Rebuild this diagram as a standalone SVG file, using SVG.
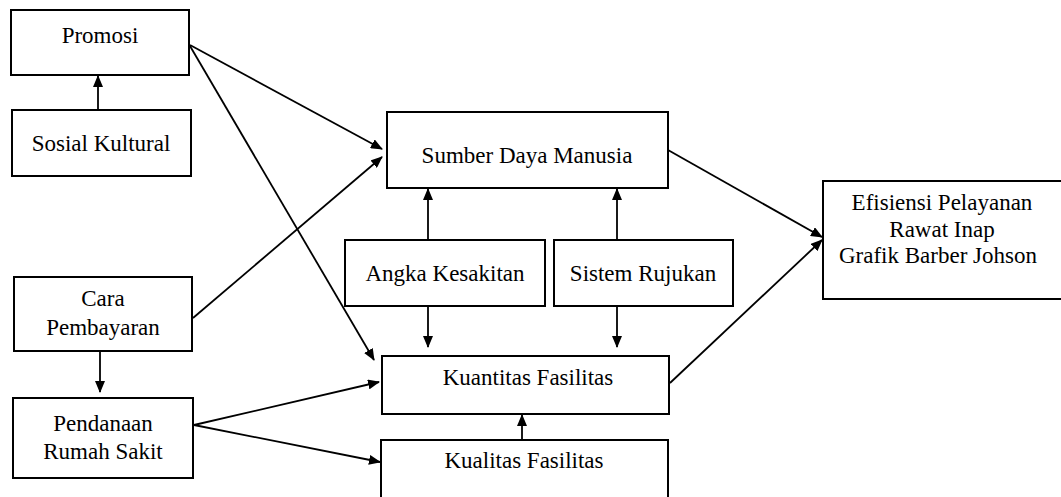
<svg xmlns="http://www.w3.org/2000/svg" width="1061" height="497" viewBox="0 0 1061 497">
<style>
.box{fill:#fff;stroke:#000;stroke-width:2}
.t{font-family:'Liberation Serif','DejaVu Serif',serif;font-size:23px;fill:#000;text-anchor:middle}
.c{stroke:#000;stroke-width:1.8;fill:none;marker-end:url(#ah)}
</style>
<defs>
<marker id="ah" markerUnits="userSpaceOnUse" markerWidth="12" markerHeight="10" refX="11" refY="5" orient="auto">
<path d="M0,0 L12,5 L0,10 Z" fill="#000"/>
</marker>
</defs>
<rect width="1061" height="497" fill="#fff"/>
<g id="connectors">
<line class="c" x1="98" y1="110" x2="98" y2="76"/>
<line class="c" x1="190" y1="45" x2="382" y2="149"/>
<line class="c" x1="190" y1="46" x2="374" y2="360"/>
<line class="c" x1="193" y1="318" x2="382" y2="157"/>
<line class="c" x1="100" y1="351" x2="100" y2="392"/>
<line class="c" x1="194" y1="425" x2="379" y2="382"/>
<line class="c" x1="194" y1="425" x2="380" y2="462"/>
<line class="c" x1="428" y1="240" x2="428" y2="189"/>
<line class="c" x1="617" y1="240" x2="617" y2="189"/>
<line class="c" x1="428" y1="306" x2="428" y2="347"/>
<line class="c" x1="617" y1="306" x2="617" y2="347"/>
<line class="c" x1="522" y1="440" x2="522" y2="415"/>
<line class="c" x1="668" y1="150" x2="822" y2="237"/>
<line class="c" x1="670" y1="383" x2="822" y2="240"/>
</g>
<g id="promosi">
<rect class="box" x="11" y="10" width="178" height="65"/>
<text class="t" x="100" y="43">Promosi</text>
</g>
<g id="sosial-kultural">
<rect class="box" x="12" y="110" width="179" height="66"/>
<text class="t" x="101" y="151">Sosial Kultural</text>
</g>
<g id="cara-pembayaran">
<rect class="box" x="14" y="277" width="178" height="74"/>
<text class="t" x="103" y="306">Cara</text>
<text class="t" x="103" y="335">Pembayaran</text>
</g>
<g id="pendanaan">
<rect class="box" x="13" y="398" width="180" height="80"/>
<text class="t" x="103" y="431">Pendanaan</text>
<text class="t" x="103" y="459">Rumah Sakit</text>
</g>
<g id="sdm">
<rect class="box" x="387" y="112" width="281" height="76"/>
<text class="t" x="527" y="163">Sumber Daya Manusia</text>
</g>
<g id="angka-kesakitan">
<rect class="box" x="345" y="240" width="200" height="66"/>
<text class="t" x="445" y="281">Angka Kesakitan</text>
</g>
<g id="sistem-rujukan">
<rect class="box" x="554" y="240" width="179" height="66"/>
<text class="t" x="643" y="281">Sistem Rujukan</text>
</g>
<g id="kuantitas">
<rect class="box" x="382" y="356" width="287" height="58"/>
<text class="t" x="528" y="385">Kuantitas Fasilitas</text>
</g>
<g id="kualitas">
<rect class="box" x="381" y="440" width="287" height="70"/>
<text class="t" x="524" y="468">Kualitas Fasilitas</text>
</g>
<g id="efisiensi">
<rect class="box" x="823" y="181" width="250" height="118"/>
<text class="t" x="942" y="210">Efisiensi Pelayanan</text>
<text class="t" x="942" y="237">Rawat Inap</text>
<text class="t" x="938" y="263">Grafik Barber Johson</text>
</g>
</svg>
